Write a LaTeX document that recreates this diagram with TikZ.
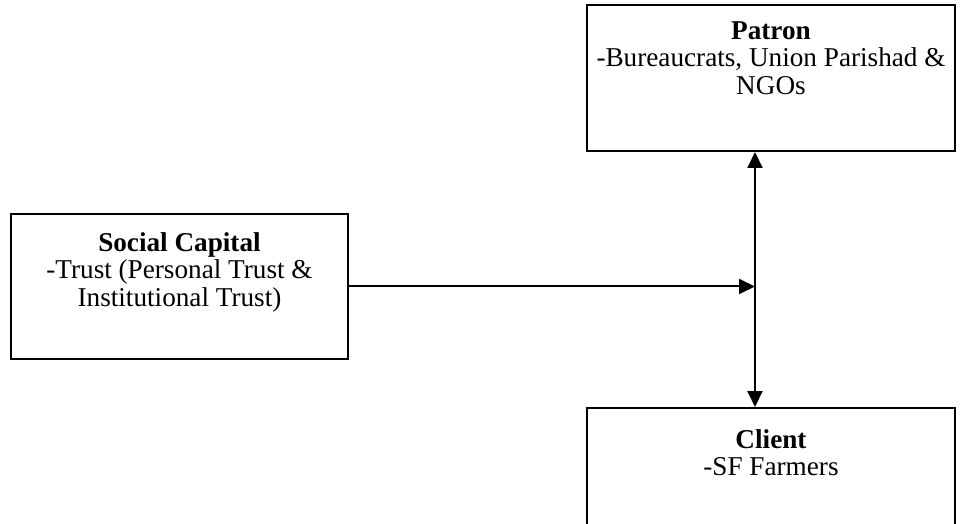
\documentclass[tikz,border=0pt]{standalone}
\usepackage{fontspec}
\setmainfont{Liberation Serif}
\usepackage{tikz}
\usetikzlibrary{arrows.meta, positioning}
\colorlet{boxline}{black}

\tikzset{
  framebox/.style={draw=boxline, line width=1pt, inner sep=0pt},
  boxtext/.style={anchor=north, inner sep=0pt, align=center,
    font=\fontsize{13.6pt}{13.8pt}\selectfont},
  link/.style={line width=1pt, -{Triangle[length=8pt, width=7.5pt]}},
}

\begin{document}
\begin{tikzpicture}[x=0.5pt, y=-0.5pt]
    \useasboundingbox (0,0) rectangle (960,524);

    \node[framebox, minimum width=184pt, minimum height=73pt] (patron) at (771, 78) {};
    \node[boxtext, below=8.5pt of patron.north] (patrontext)
      {\textbf{Patron}\\-Bureaucrats, Union Parishad \&\\NGOs};

    \node[framebox, minimum width=168.5pt, minimum height=72.5pt] (social) at (179.5, 286.5) {};
    \node[boxtext, below=9.5pt of social.north] (socialtext)
      {\textbf{Social Capital}\\-Trust (Personal Trust \&\\Institutional Trust)};

    \node[framebox, minimum width=184pt, minimum height=73pt] (client) at (771, 481) {};
    \node[boxtext, below=11pt of client.north] (clienttext)
      {\textbf{Client}\\-SF Farmers};

    \coordinate (hub) at (755, 286.5);

    \draw[link] (social.east) -- (hub);
    \draw[link, {Triangle[length=8pt, width=7.5pt]}-{Triangle[length=8pt, width=7.5pt]}]
      (patron.south -| hub) -- (client.north -| hub);
  \end{tikzpicture}
\end{document}
